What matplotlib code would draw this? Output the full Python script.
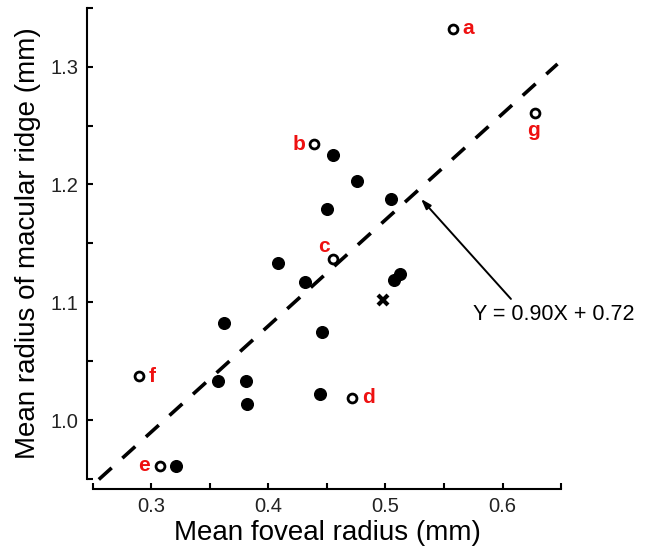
import matplotlib
matplotlib.use("Agg")
import matplotlib.pyplot as plt
import numpy as np

plt.rcParams['font.family'] = ['Liberation Sans', 'DejaVu Sans']

# ---- data ----
filled_x = [0.455, 0.476, 0.450, 0.505, 0.408, 0.431, 0.362, 0.507, 0.512,
            0.446, 0.357, 0.381, 0.382, 0.444, 0.321]
filled_y = [1.225, 1.203, 1.179, 1.188, 1.133, 1.117, 1.082, 1.119, 1.124,
            1.075, 1.033, 1.033, 1.014, 1.022, 0.961]

open_labels = ['a', 'b', 'c', 'd', 'e', 'f', 'g']
open_x = [0.558, 0.439, 0.455, 0.471, 0.307, 0.289, 0.628]
open_y = [1.332, 1.234, 1.137, 1.019, 0.961, 1.037, 1.261]

cross_x = [0.498]
cross_y = [1.102]

fit_slope = 0.90
fit_intercept = 0.72
fit_x_range = [0.255, 0.647]
fit_text = "Y = 0.90X + 0.72"

x_ticks = [0.25, 0.30, 0.35, 0.40, 0.45, 0.50, 0.55, 0.60, 0.65]
x_ticklabels = ['', '0.3', '', '0.4', '', '0.5', '', '0.6', '']
y_ticks = [0.95, 1.00, 1.05, 1.10, 1.15, 1.20, 1.25, 1.30, 1.35]
y_ticklabels = ['', '1.0', '', '1.1', '', '1.2', '', '1.3', '']

# label offsets in points (style)
label_offsets = {'a': (11, 0), 'b': (-11, 0), 'c': (-6.5, 8.6), 'd': (12, 0),
                 'e': (-11.5, 0), 'f': (10, 0), 'g': (-1.5, -13)}

fig = plt.figure(figsize=(6.47, 5.49), dpi=100)
ax = fig.add_axes([0.1437, 0.1277, 0.7234, 0.8581])

ax.set_xlim(0.25, 0.65)
ax.set_ylim(0.95, 1.35)

# regression line
lx = np.array(fit_x_range)
ly = fit_slope * lx + fit_intercept
ax.plot(lx, ly, color='black', lw=2.6, dashes=(4.8, 4.0), zorder=1, clip_on=False)

ax.plot(filled_x, filled_y, 'o', color='black', ms=8.4, zorder=3, clip_on=False)
ax.plot(open_x, open_y, 'o', mfc='white', mec='black', ms=6.4, mew=2.0, zorder=3,
        clip_on=False)
ax.plot(cross_x, cross_y, 'x', color='black', ms=7, mew=3, zorder=3)

for lab, x, y in zip(open_labels, open_x, open_y):
    ax.annotate(lab, (x, y), xytext=label_offsets[lab], textcoords='offset points',
                ha='center', va='center', color='#ee1111', fontsize=15,
                fontweight='bold', annotation_clip=False)

ax.annotate('', xy=(0.5304, 1.1877), xytext=(0.6072, 1.1028),
            arrowprops=dict(arrowstyle='-|>,head_length=0.6,head_width=0.2',
                            color='black', lw=1.4, shrinkA=0, shrinkB=0),
            annotation_clip=False)
ax.text(0.5748, 1.0892, fit_text, ha='left', va='center', fontsize=15.5,
        clip_on=False)

for s in ['top', 'right']:
    ax.spines[s].set_visible(False)
ax.spines['left'].set_position(('outward', 4.3))
ax.spines['bottom'].set_position(('outward', 7.2))
ax.spines['left'].set_linewidth(1.5)
ax.spines['bottom'].set_linewidth(1.5)

ax.set_xticks(x_ticks)
ax.set_xticklabels(x_ticklabels)
ax.set_yticks(y_ticks)
ax.set_yticklabels(y_ticklabels)
ax.tick_params(direction='in', length=4.5, width=1.5, labelsize=14.5, pad=6,
               colors='black')
ax.tick_params(axis='x', labelcolor='#222222')
ax.tick_params(axis='y', labelcolor='#222222')

ax.set_xlabel('Mean foveal radius (mm)', fontsize=20, labelpad=3)
ax.set_ylabel('Mean radius of macular ridge (mm)', fontsize=20, labelpad=7)

fig.savefig('out.png', dpi=100)
